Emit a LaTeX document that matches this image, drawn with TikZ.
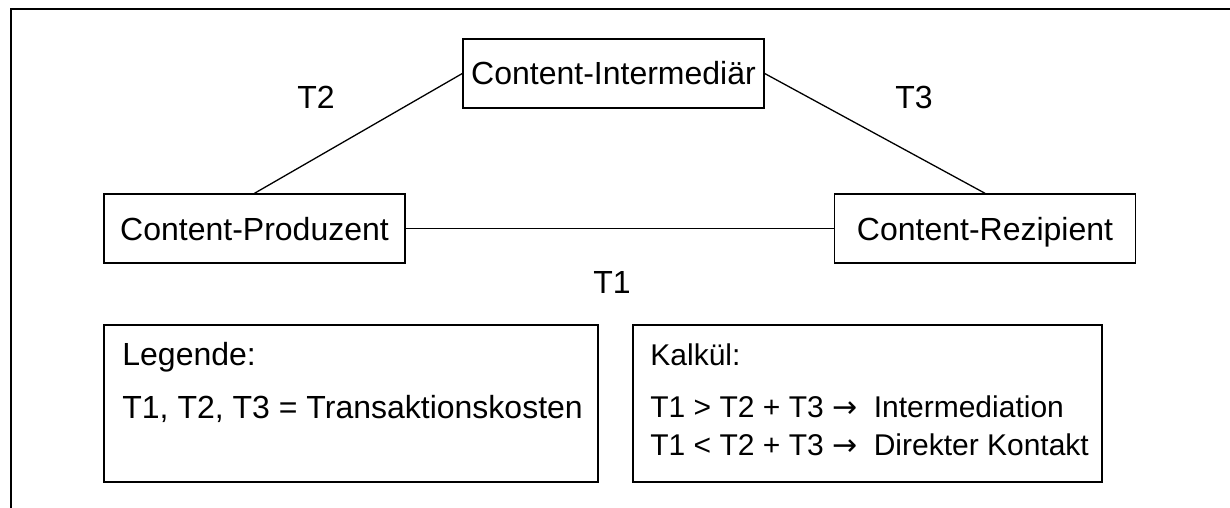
\documentclass[tikz,border=0pt]{standalone}
\usepackage{fontspec}
\setmainfont{Liberation Sans}
\newfontfamily\arrowfont{DejaVu Sans}
\newcommand{\rarr}{{\arrowfont →}\hspace{0.55em}}
\begin{document}
\begin{tikzpicture}[x=0.5pt,y=-0.5pt,
  every node/.style={font=\fontsize{16}{19}\selectfont, inner sep=0pt},
  actor/.style={draw, line width=0.7pt, minimum width=150.5pt, minimum height=34.5pt, text height=11.5pt, text depth=0pt},
  panel/.style={draw, line width=0.7pt},
  conn/.style={line width=0.65pt},
  frame/.style={line width=1.2pt},
  txt/.style={anchor=base west},
  ktxt/.style={anchor=base west, font=\fontsize{15}{18}\selectfont}]
\useasboundingbox (0,0) rectangle (1230,508);
% outer frame (partial)
\coordinate (fl) at (11,508);
\coordinate (fc) at (11,9);
\coordinate (fr) at (1230,9);
\draw[frame] (fl) -- (fc) -- (fr);
% actors
\node[actor] (inter) at (613.5,73.5) {Content-Intermedi\"ar};
\node[actor] (prod) at (254.5,228.5) {Content-Produzent};
\node[actor] (rez) at (985,228.5) {Content-Rezipient};
% connectors
\draw[conn] (prod.north) -- (inter.west);
\draw[conn] (inter.east) -- (rez.north);
\draw[conn] (prod.east) -- (rez.west);
% labels
\node (t2) at (316,97) {T2};
\node (t3) at (914,97) {T3};
\node (t1) at (612,282) {T1};
% legend panel
\node[panel, minimum width=247pt, minimum height=78.5pt] (legbox) at (351,403.5) {};
\node[txt] (leg1) at (122,365) {Legende:};
\node[txt] (leg2) at (122,418) {T1, T2, T3 = Transaktionskosten};
% calculus panel
\node[panel, minimum width=234.5pt, minimum height=78.5pt] (kalbox) at (867.5,403.5) {};
\node[ktxt] (kal1) at (650,365) {Kalk\"ul:};
\node[ktxt] (kal2) at (650,417) {T1 > T2 + T3 \rarr Intermediation};
\node[ktxt] (kal3) at (650,455) {T1 < T2 + T3 \rarr Direkter Kontakt};
\end{tikzpicture}
\end{document}
